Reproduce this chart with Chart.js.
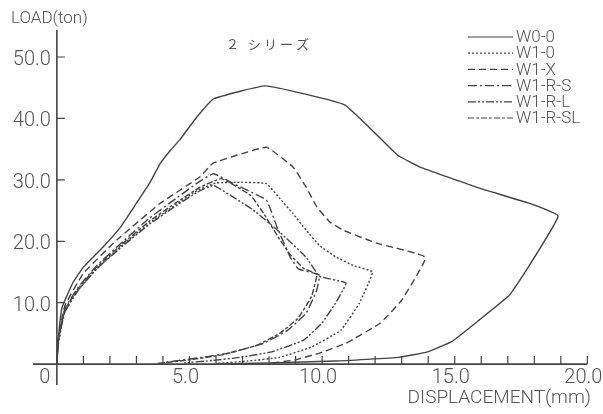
<!DOCTYPE html>
<html>
<head>
<meta charset="utf-8">
<script src="https://cdn.jsdelivr.net/npm/chart.js@4.4.0/dist/chart.umd.min.js"></script>
<style>
body{margin:0;background:#fff}
#wrap{width:603px;height:414px;position:relative}
</style>
</head>
<body>
<div id="wrap"><canvas id="myChart"></canvas></div>
<script>
// series names
var seriesNames=['W0-0','W1-0','W1-X','W1-R-S','W1-R-L','W1-R-SL']

// displacement (mm) / load (ton)
var w00X=[0,0.05,0.2,0.6,1.0,1.75,2.4,3.0,3.5,3.9,4.3,4.63,5.27,5.91,7.87,10.85,12.85,13.8,15.9,17.8,18.9,17.7,17.06,15.93,14.9,13.97,12.9,10.5,8.0,6.0]
var w00Y=[0,4,9.3,13.2,15.8,19.1,22.3,26.2,29.5,32.7,34.9,36.5,40.2,43.2,45.3,42.2,34.0,31.9,28.7,26.2,24.1,15.3,11.2,7.2,3.7,2.0,1.1,0.5,0.2,0]

var w10X=[0,0.05,0.25,0.7,1.5,2.5,3.5,4.5,5.3,6.0,7.0,7.9,8.4,8.9,9.4,9.9,10.5,11.2,11.9,11.4,10.7,9.6,8.4,7.2,6.0]
var w10Y=[0,3,8,11.5,15.5,19.5,23,26,28.3,29.5,29.6,29.4,27,24.5,21.8,19.3,17.5,16,15.0,9.9,5.5,2.8,1.1,0.5,0.1]

var w1xX=[0,0.05,0.3,1.0,2.26,3.9,5.4,5.88,7.9,8.9,9.4,9.8,10.3,10.8,12.05,13.9,13.0,12.2,10.9,9.9,9.0,8.0]
var w1xY=[0,4,9.5,14.8,20.2,26.2,30.5,32.7,35.3,32.1,28.8,25.6,23.1,21.8,19.7,17.4,10.4,6.7,3.4,1.8,0.7,0.1]

var w1rsX=[0,0.05,0.3,0.8,1.5,2.5,3.5,4.5,5.3,5.9,6.6,7.9,8.3,8.8,9.1,9.9,9.8,9.4,8.7,7.8,6.5,5.3,4.6,3.8]
var w1rsY=[0,4,9,12.5,16,20,23.8,27,29.5,31,29.5,26.7,22.3,17.4,15.5,14.5,12.1,8.3,5.5,3.4,1.8,1,0.6,0.1]

var w1rlX=[0,0.05,0.3,0.8,1.5,2.5,3.5,4.5,5.3,5.9,7.4,8.4,9.4,9.9,10.9,10.5,10.0,9.3,8.1,6.9,5.9,4.8]
var w1rlY=[0,3.5,8.5,12,15.5,19.3,22.8,25.8,28,29.1,25.1,21.5,17.4,14.3,13.2,9.9,6.7,3.9,2.0,1.1,0.6,0.2]

var w1rslX=[0,0.05,0.3,0.8,1.5,2.5,3.5,4.5,5.4,6.2,7.3,7.8,8.3,8.8,9.3,9.8,9.6,9.1,8.4,7.5,6.2,5.0,4.0]
var w1rslY=[0,3.8,8.8,12.3,15.8,19.7,23.3,26.3,28.8,30.2,27.5,24.5,21,17.8,15.6,14.6,11,7.5,5,3,1.5,0.7,0.2]

// axis ticks
var xTickVals=[0,5,10,15,20]
var xTickLabels=['0','5.0','10.0','15.0','20.0']
var yTickVals=[10,20,30,40,50]
var yTickLabels=['10.0','20.0','30.0','40.0','50.0']

var allX=[w00X,w10X,w1xX,w1rsX,w1rlX,w1rslX]
var allY=[w00Y,w10Y,w1xY,w1rsY,w1rlY,w1rslY]
var dashes=[[],[2,2],[7,4],[9,3,2,3],[8,2,2,2,2,2],[6,2,3,2]]
var ink='#444'

function pts(xs,ys){
    var out=[]
    for(var i=0;i<xs.length;i++){ out.push({x:xs[i],y:ys[i]}) }
    return out
}

var datasets=seriesNames.map(function(name,i){
    return {
        label:name,
        data:pts(allX[i],allY[i]),
        showLine:true,
        borderColor:ink,
        borderWidth:1.4,
        borderDash:dashes[i],
        pointRadius:0,
        fill:false,
        tension:0.1
    }
})

var axesPlugin={
    id:'axesPlugin',
    afterDraw:function(chart){
        var ctx=chart.ctx
        var xs=chart.scales.x, ys=chart.scales.y
        var x0=xs.getPixelForValue(0), y0=ys.getPixelForValue(0)
        ctx.save()
        ctx.strokeStyle=ink
        ctx.fillStyle='#555'
        ctx.lineWidth=1.6
        ctx.setLineDash([])
        // axis lines
        ctx.beginPath()
        ctx.moveTo(x0,chart.chartArea.top)
        ctx.lineTo(x0,chart.chartArea.bottom)
        ctx.moveTo(chart.chartArea.left,y0)
        ctx.lineTo(xs.getPixelForValue(20),y0)
        ctx.stroke()
        // minor ticks on x, major on y
        ctx.lineWidth=1.2
        ctx.beginPath()
        for(var t=1;t<=20;t++){
            var px=xs.getPixelForValue(t)
            ctx.moveTo(px,y0)
            ctx.lineTo(px,y0-8)
        }
        for(var j=0;j<yTickVals.length;j++){
            var py=ys.getPixelForValue(yTickVals[j])
            ctx.moveTo(x0,py)
            ctx.lineTo(x0+8,py)
        }
        ctx.stroke()
        // tick labels
        ctx.font='300 20px Roboto'
        ctx.textBaseline='middle'
        ctx.textAlign='right'
        for(var j=0;j<yTickVals.length;j++){
            ctx.fillText(yTickLabels[j],x0-6,ys.getPixelForValue(yTickVals[j])+3)
        }
        ctx.textAlign='center'
        for(var k=0;k<xTickVals.length;k++){
            var lx=xs.getPixelForValue(xTickVals[k])-4
            if(xTickVals[k]==0) lx=x0-12
            ctx.fillText(xTickLabels[k],lx,y0+14)
        }
        // axis titles
        ctx.font='300 17px Roboto'
        ctx.textAlign='left'
        ctx.fillText('LOAD(ton)',11,19)
        ctx.font='300 19px Roboto'
        ctx.textAlign='right'
        ctx.fillText('DISPLACEMENT(mm)',591,398)
        ctx.font='13px "Noto Sans CJK JP"'
        ctx.textAlign='left'
        ctx.letterSpacing='3px'
        ctx.fillText('２ シリーズ',226,44)
        ctx.letterSpacing='0px'
        // legend
        ctx.font='300 17px Roboto'
        ctx.textAlign='left'
        for(var i=0;i<seriesNames.length;i++){
            var ry=37+i*16.2
            ctx.lineWidth=1.2
            ctx.setLineDash(dashes[i])
            ctx.beginPath()
            ctx.moveTo(468,ry)
            ctx.lineTo(513,ry)
            ctx.stroke()
            ctx.setLineDash([])
            ctx.fillText(seriesNames[i],516,ry+1)
        }
        ctx.restore()
    }
}

var ctx=document.getElementById('myChart')
var myChart=new Chart(ctx,{
    type:'scatter',
    data:{datasets:datasets},
    options:{
        responsive:true,
        maintainAspectRatio:false,
        animation:false,
        layout:{padding:{left:33,right:13,top:30,bottom:29}},
        plugins:{legend:{display:false},tooltip:{enabled:false}},
        scales:{
            x:{type:'linear',display:false,min:-0.9,max:20.1},
            y:{type:'linear',display:false,min:-3.4,max:54.4}
        }
    },
    plugins:[axesPlugin]
})
</script>
</body>
</html>
